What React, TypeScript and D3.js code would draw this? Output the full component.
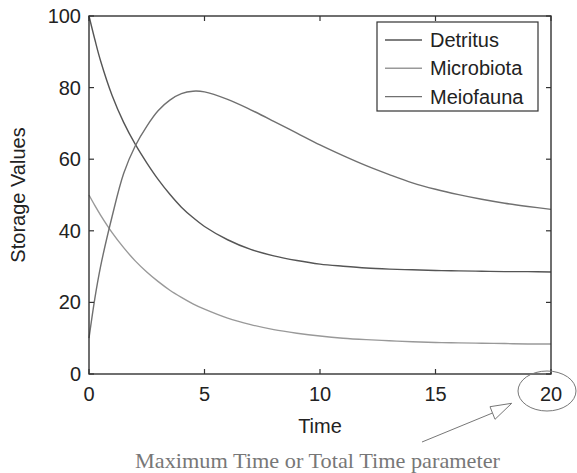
import React from 'react'
import * as d3 from 'd3'

// storage model output
const time = [0, 0.25, 0.5, 1, 1.5, 2, 2.5, 3, 3.5, 4, 4.5, 5, 6, 7, 8, 9, 10, 11, 12, 13, 14, 15, 16, 17, 18, 19, 20]
const detritus = [100, 93.5, 87.5, 77.8, 70.3, 64.2, 59, 54.3, 50.2, 46.6, 43.7, 41.2, 37.5, 34.8, 33.0, 31.7, 30.7, 30.1, 29.6, 29.3, 29.1, 28.9, 28.8, 28.7, 28.6, 28.6, 28.5]
const microbiota = [50, 47.1, 44.4, 39.5, 35.3, 31.6, 28.5, 25.8, 23.4, 21.4, 19.6, 18.1, 15.6, 13.8, 12.4, 11.4, 10.6, 10.0, 9.6, 9.3, 9.0, 8.8, 8.7, 8.6, 8.5, 8.4, 8.4]
const meiofauna = [10, 21, 30, 44, 56, 63.7, 69.2, 73.6, 76.5, 78.3, 79, 78.8, 76.7, 73.8, 70.6, 67.3, 64.0, 61.0, 58.2, 55.7, 53.4, 51.6, 50.1, 48.8, 47.7, 46.8, 46.0]

const seriesNames = ['Detritus', 'Microbiota', 'Meiofauna']
const seriesColors = ['#555555', '#999999', '#707070']
const xTicks = [0, 5, 10, 15, 20]
const yTicks = [0, 20, 40, 60, 80, 100]

const W = 577
const H = 473
const m = { left: 89, right: 551, top: 16, bottom: 374 }
const font = 'Liberation Sans, Arial, Helvetica, sans-serif'

export default function App() {
  const x = d3.scaleLinear().domain([0, 20]).range([m.left, m.right])
  const y = d3.scaleLinear().domain([0, 100]).range([m.bottom, m.top])
  const line = d3.line<number>()
    .x((_, i) => x(time[i]))
    .y(d => y(d))
    .curve(d3.curveCatmullRom.alpha(0.5))

  const all = [detritus, microbiota, meiofauna]
  const tk = 5

  return (
    <svg width={W} height={H} style={{ position: 'absolute', left: 0, top: 0 }}>
      <rect width={W} height={H} fill='#fff' />

      {all.map((s, i) => (
        <path key={i} d={line(s) || ''} fill='none' stroke={seriesColors[i]} strokeWidth={1.4} />
      ))}

      {/* box + ticks on all sides */}
      <rect x={m.left} y={m.top} width={m.right - m.left} height={m.bottom - m.top}
        fill='none' stroke='#333' strokeWidth={1.4} />
      {xTicks.map(t => (
        <g key={'x' + t}>
          <line x1={x(t)} x2={x(t)} y1={m.bottom} y2={m.bottom - tk} stroke='#333' strokeWidth={1.2} />
          <line x1={x(t)} x2={x(t)} y1={m.top} y2={m.top + tk} stroke='#333' strokeWidth={1.2} />
          <text x={x(t)} y={401} textAnchor='middle' fontFamily={font} fontSize={20} fill='#222'>{t}</text>
        </g>
      ))}
      {yTicks.map(t => (
        <g key={'y' + t}>
          <line x1={m.left} x2={m.left + tk} y1={y(t)} y2={y(t)} stroke='#333' strokeWidth={1.2} />
          <line x1={m.right} x2={m.right - tk} y1={y(t)} y2={y(t)} stroke='#333' strokeWidth={1.2} />
          <text x={81} y={y(t) + 7} textAnchor='end' fontFamily={font} fontSize={20} fill='#222'>{t}</text>
        </g>
      ))}

      <text x={(m.left + m.right) / 2} y={433} textAnchor='middle' fontFamily={font} fontSize={20} fill='#222'>Time</text>
      <text transform={`translate(25,${(m.top + m.bottom) / 2}) rotate(-90)`} textAnchor='middle'
        fontFamily={font} fontSize={20} fill='#222'>Storage Values</text>

      {/* legend */}
      <rect x={377} y={22} width={161} height={89} fill='#fff' stroke='#333' strokeWidth={1.2} />
      {seriesNames.map((n, i) => {
        const cy = 40 + i * 28.3
        return (
          <g key={n}>
            <line x1={385} x2={422} y1={cy} y2={cy} stroke={seriesColors[i]} strokeWidth={1.4} />
            <text x={430} y={cy + 7} fontFamily={font} fontSize={20} fill='#222'>{n}</text>
          </g>
        )
      })}

      {/* annotation */}
      <ellipse cx={547} cy={391} rx={29} ry={20} fill='none' stroke='#777' strokeWidth={1} />
      <line x1={422} y1={442} x2={492.5} y2={413} stroke='#777' strokeWidth={1} />
      <polygon points='511.7,403.3 490,406.7 495,419.3' fill='#fff' stroke='#777' strokeWidth={1} />
      <text x={135} y={468} textLength={365} lengthAdjust='spacingAndGlyphs'
        fontFamily='Liberation Serif, Times New Roman, serif'
        fontSize={21} fill='#777'>Maximum Time or Total Time parameter</text>
    </svg>
  )
}
